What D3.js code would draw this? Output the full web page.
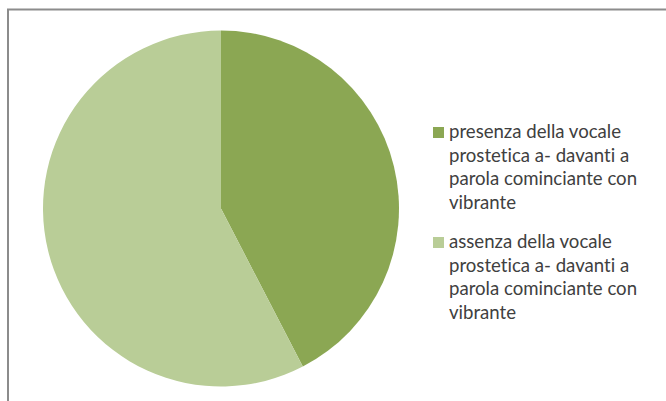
<!DOCTYPE html>
<html lang="it">
<head>
<meta charset="UTF-8">
<title>Vocale prostetica</title>
<script src="https://d3js.org/d3.v7.min.js"></script>
<style>
  body { margin: 0; background: #fff; }
  svg { display: block; }
  .legend text {
    font-family: Lato, "Open Sans", sans-serif;
    font-size: 18.6px;
    fill: #404040;
    font-variant-ligatures: none;
  }
</style>
</head>
<body>
<svg id="chart" width="666" height="401"></svg>
<script>
// data
var labels = [
  ["presenza della vocale", "prostetica a- davanti a", "parola cominciante con", "vibrante"],
  ["assenza della vocale", "prostetica a- davanti a", "parola cominciante con", "vibrante"]
];
var values = [42.4, 57.6];
var colors = ["#8ba753", "#b9cd97"];

var svg = d3.select("#chart");

// chart frame (only top and left edges show)
svg.append("path")
  .attr("d", "M8,401 V9.5 H666")
  .attr("fill", "none")
  .attr("stroke", "#8c8c8c")
  .attr("stroke-width", 2);

var cx = 221, cy = 208.5, r = 178;

var pie = d3.pie().sort(null).value(function(d) { return d; });
var arc = d3.arc().innerRadius(0).outerRadius(r);

svg.append("g")
  .attr("transform", "translate(" + cx + "," + cy + ")")
  .selectAll("path")
  .data(pie(values))
  .enter().append("path")
  .attr("d", arc)
  .attr("fill", function(d, i) { return colors[i]; });

// legend
var legend = svg.append("g").attr("class", "legend");
var lineH = 23.5;
var entryY = [138, 248];

labels.forEach(function(lines, i) {
  var g = legend.append("g").attr("transform", "translate(0," + entryY[i] + ")");
  g.append("rect")
    .attr("x", 433).attr("y", -11)
    .attr("width", 11).attr("height", 11)
    .attr("fill", colors[i]);
  var t = g.append("text").attr("x", 449).attr("y", 0);
  lines.forEach(function(l, j) {
    t.append("tspan").attr("x", 449).attr("dy", j === 0 ? 0 : lineH).text(l);
  });
});
</script>
</body>
</html>
